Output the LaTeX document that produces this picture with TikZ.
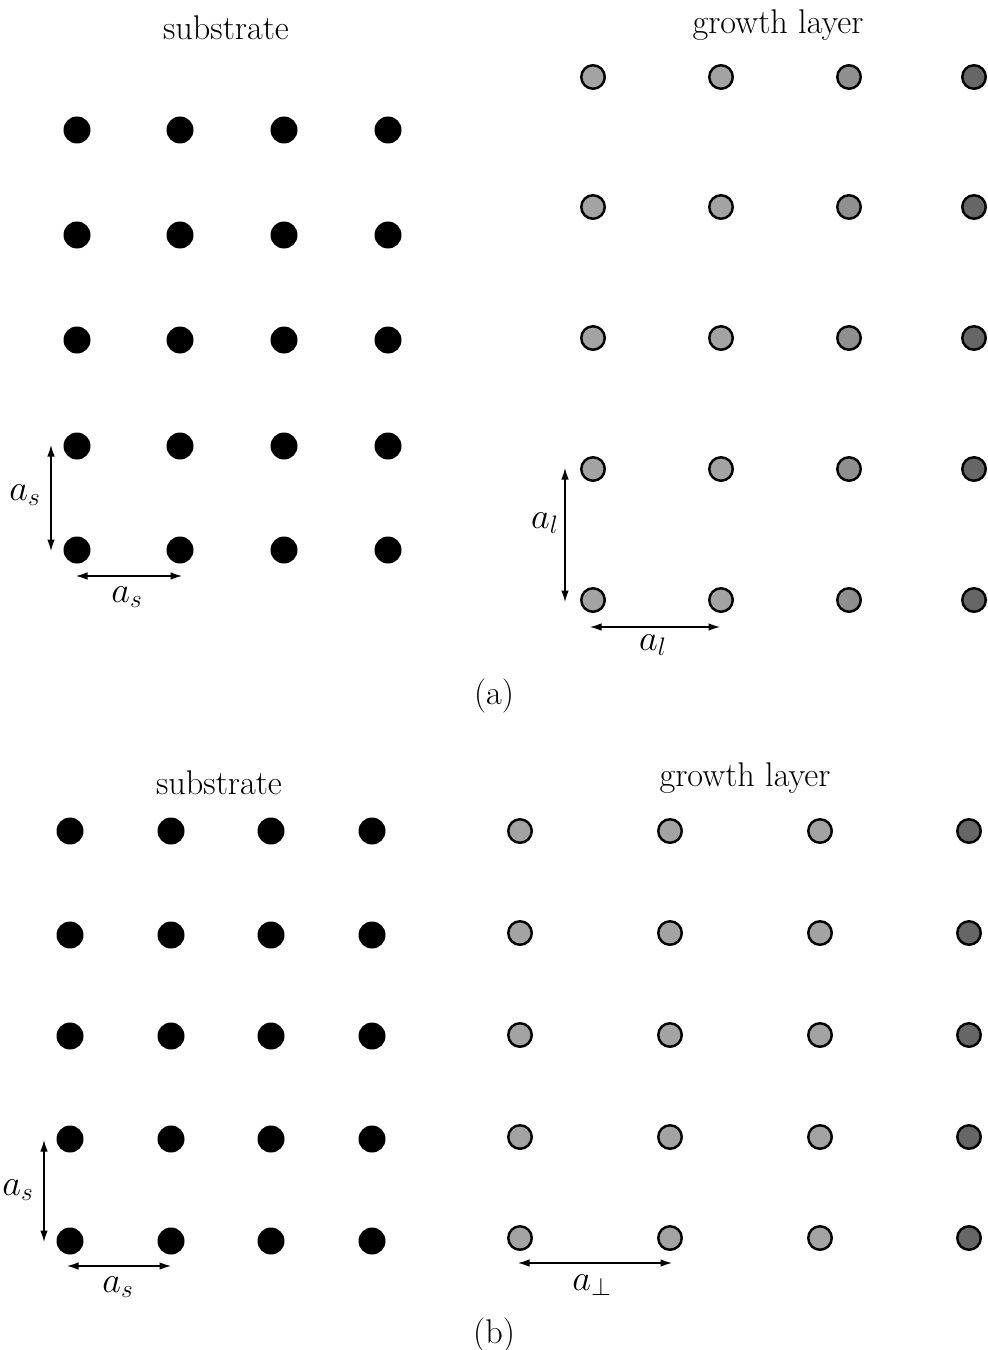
\documentclass[tikz,border=0pt]{standalone}
\usepackage{fontspec}
\usepackage{tikz}
\usetikzlibrary{arrows.meta,calc}
\definecolor{atomgrey}{gray}{0.64}
\definecolor{atommid}{gray}{0.56}
\definecolor{atomdark}{gray}{0.40}
\tikzset{
  subatom/.style={
    circle,fill=black,inner sep=0pt,minimum size=5.4mm
  },
  layeratom/.style={
    circle,draw=black,line width=1.4pt,fill=atomgrey,
    inner sep=0pt,minimum size=4.7mm
  },
  midatom/.style={layeratom,fill=atommid},
  darkatom/.style={layeratom,fill=atomdark},
  lbl/.style={font=\fontsize{19.5}{23}\selectfont,inner sep=1pt},
  spacing/.style={
    {Latex[length=2.3mm,width=1.5mm]}-{Latex[length=2.3mm,width=1.5mm]},
    line width=.7pt
  }
}
\begin{document}
\begin{tikzpicture}[x=0.2mm,y=-0.2mm]
\useasboundingbox (0,0) rectangle (987,1350);

% (a) substrate and growth layer
\foreach \i/\x in {1/77,2/180,3/284,4/388}
  \foreach \j/\y in {1/130,2/235,3/340,4/446,5/550}
    \node[subatom] (sa-\i-\j) at (\x,\y) {};
\foreach \i/\x/\s in {1/593/layeratom,2/721/layeratom,3/849/midatom,4/974/darkatom}
  \foreach \j/\y in {1/77,2/207,3/338,4/469,5/600}
    \node[\s] (ga-\i-\j) at (\x,\y) {};

\node[lbl] (subtitle-a) at (226,28) {substrate};
\node[lbl] (laytitle-a) at (778,25) {growth layer};

\coordinate (asv1) at ($(sa-1-4)+(-26,-1)$);
\coordinate (asv2) at ($(sa-1-5)+(-26,1)$);
\coordinate (ash1) at ($(sa-1-5)+(-1,26)$);
\coordinate (ash2) at ($(sa-2-5)+(2,26)$);
\draw[spacing] (asv1) -- (asv2);
\draw[spacing] (ash1) -- (ash2);
\node[lbl] (asv-a) at (25,495) {$a_s$};
\node[lbl] (ash-a) at (127,597) {$a_s$};

\coordinate (alv1) at ($(ga-1-4)+(-28,-1)$);
\coordinate (alv2) at ($(ga-1-5)+(-28,2)$);
\coordinate (alh1) at ($(ga-1-5)+(-3,27)$);
\coordinate (alh2) at ($(ga-2-5)+(-1,27)$);
\draw[spacing] (alv1) -- (alv2);
\draw[spacing] (alh1) -- (alh2);
\node[lbl] (alv-a) at (545,523) {$a_l$};
\node[lbl] (alh-a) at (653,645) {$a_l$};

\node[lbl] (cap-a) at (494,696) {(a)};

% (b) substrate and growth layer
\foreach \i/\x in {1/70,2/171,3/271,4/372}
  \foreach \j/\y in {1/831,2/935,3/1036,4/1139,5/1241}
    \node[subatom] (sb-\i-\j) at (\x,\y) {};
\foreach \i/\x/\s in {1/520/layeratom,2/670/layeratom,3/820/layeratom,4/969/darkatom}
  \foreach \j/\y in {1/831,2/933,3/1035,4/1137,5/1238}
    \node[\s] (gb-\i-\j) at (\x,\y) {};

\node[lbl] (subtitle-b) at (219,783) {substrate};
\node[lbl] (laytitle-b) at (745,778) {growth layer};

\coordinate (bsv1) at ($(sb-1-4)+(-26,1)$);
\coordinate (bsv2) at ($(sb-1-5)+(-26,1)$);
\coordinate (bsh1) at ($(sb-1-5)+(-3,25)$);
\coordinate (bsh2) at ($(sb-2-5)+(0,25)$);
\draw[spacing] (bsv1) -- (bsv2);
\draw[spacing] (bsh1) -- (bsh2);
\node[lbl] (bsv-b) at (18,1190) {$a_s$};
\node[lbl] (bsh-b) at (118,1287) {$a_s$};

\coordinate (bph1) at ($(gb-1-5)+(-2,25)$);
\coordinate (bph2) at ($(gb-2-5)+(2,25)$);
\draw[spacing] (bph1) -- (bph2);
\node[lbl] (bph-b) at (592,1285) {$a_\perp$};

\node[lbl] (cap-b) at (494,1335) {(b)};
\end{tikzpicture}
\end{document}
